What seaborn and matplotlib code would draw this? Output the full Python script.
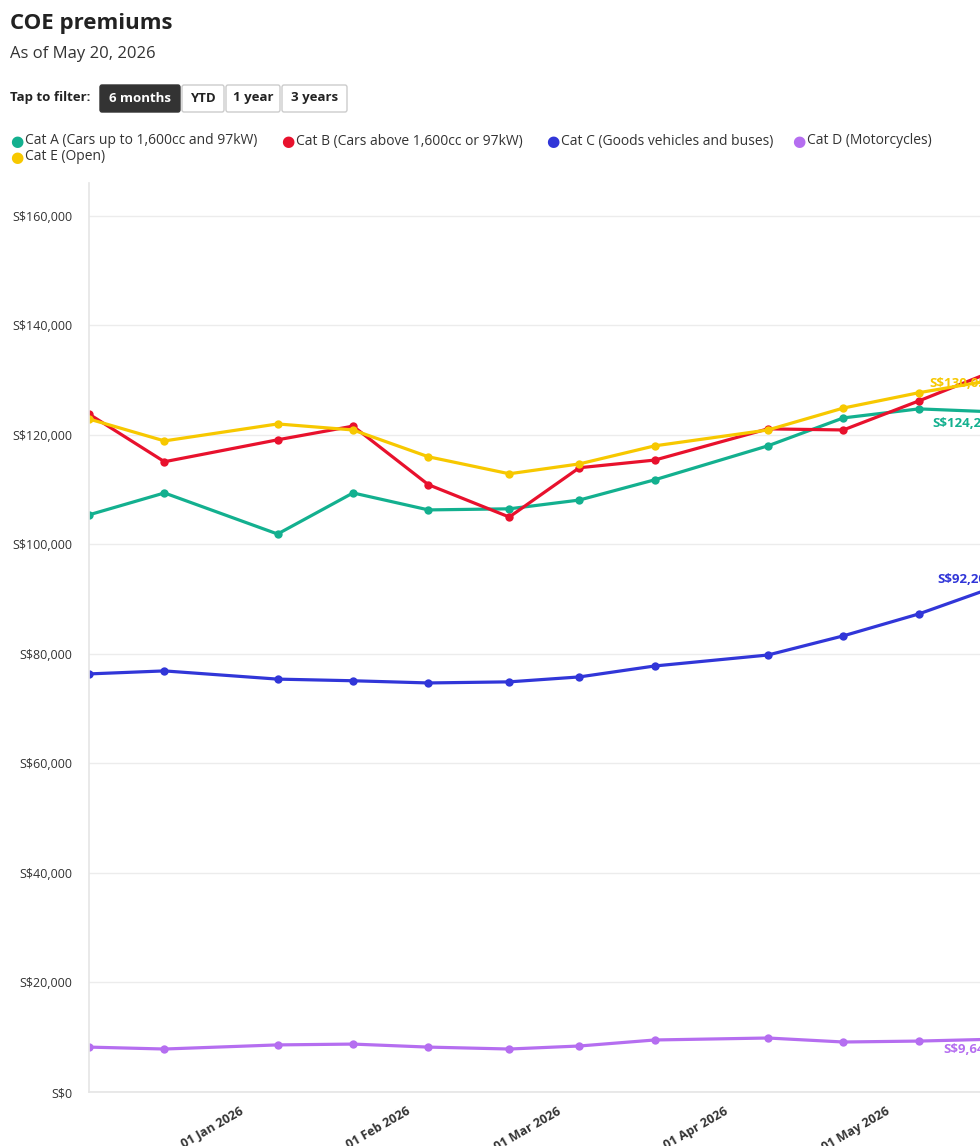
import matplotlib
matplotlib.use("Agg")
import matplotlib.pyplot as plt
import matplotlib.dates as mdates
from matplotlib.patches import FancyBboxPatch
import seaborn as sns
import pandas as pd

sns.set_theme(style="white")
plt.rcParams['font.family'] = ['Open Sans', 'DejaVu Sans']

dates = pd.to_datetime(['2025-12-03', '2025-12-17', '2026-01-07', '2026-01-21', '2026-02-04',
                        '2026-02-19', '2026-03-04', '2026-03-18', '2026-04-08', '2026-04-22',
                        '2026-05-06', '2026-05-20'])
premiums = {
    'Cat A (Cars up to 1,600cc and 97kW)': [105400, 109400, 101900, 109400, 106300, 106500,
                                            108100, 111800, 118000, 123100, 124750, 124200],
    'Cat B (Cars above 1,600cc or 97kW)': [123800, 115100, 119100, 121600, 110900, 105000,
                                           114000, 115400, 121100, 120900, 126200, 131700],
    'Cat C (Goods vehicles and buses)': [76350, 76900, 75400, 75100, 74700, 74900,
                                         75800, 77800, 79800, 83300, 87300, 92200],
    'Cat D (Motorcycles)': [8200, 7850, 8600, 8750, 8200, 7850, 8400, 9500, 9860, 9130, 9300, 9640],
    'Cat E (Open)': [122900, 118900, 122000, 120900, 116000, 112900, 114700, 118000, 120900,
                     124900, 127700, 130050],
}
colours = {
    'Cat A (Cars up to 1,600cc and 97kW)': '#13b08f',
    'Cat B (Cars above 1,600cc or 97kW)': '#e8112d',
    'Cat C (Goods vehicles and buses)': '#3136d8',
    'Cat D (Motorcycles)': '#b56ef0',
    'Cat E (Open)': '#f7c800',
}
df = pd.DataFrame(premiums, index=dates).reset_index(names='date')
long = df.melt(id_vars='date', var_name='category', value_name='premium')

W, H = 980, 1146
fig = plt.figure(figsize=(W / 100, H / 100), dpi=100)
ax_left, ax_right, ax_top, ax_bot = 89, 1040, 183, 1092
ax = fig.add_axes([ax_left / W, 1 - ax_bot / H, (ax_right - ax_left) / W, (ax_bot - ax_top) / H])

sns.lineplot(data=long, x='date', y='premium', hue='category', palette=colours,
             marker='o', markersize=6, markeredgewidth=0, linewidth=2.3, legend=False, ax=ax)

ax.set_ylim(0, 166000)
ax.set_xlim(pd.Timestamp('2025-12-03'), pd.Timestamp('2026-05-28 12:00'))
ax.set_yticks(range(0, 160001, 20000))
ax.set_yticklabels([f'S${v:,}' for v in range(0, 160001, 20000)], fontsize=9, color='#333333')
ax.yaxis.grid(True, color='#ececec', linewidth=1)
ax.xaxis.set_major_locator(mdates.MonthLocator(bymonthday=1))
ax.xaxis.set_major_formatter(mdates.DateFormatter('%d %b %Y'))
for lab in ax.get_xticklabels():
    lab.set_rotation(30)
    lab.set_ha('right')
    lab.set_fontsize(9)
    lab.set_fontweight('bold')
    lab.set_color('#333333')
ax.tick_params(axis='x', length=5, color='#dddddd', pad=4)
ax.tick_params(axis='y', length=0, pad=12)
ax.set_xlabel('')
ax.set_ylabel('')
for s in ['top', 'right']:
    ax.spines[s].set_visible(False)
ax.spines['left'].set_color('#e6e6e6')
ax.spines['bottom'].set_color('#e6e6e6')

# end labels
offsets = {
    'Cat A (Cars up to 1,600cc and 97kW)': (-62, -12),
    'Cat B (Cars above 1,600cc or 97kW)': None,
    'Cat C (Goods vehicles and buses)': (-57, 8),
    'Cat D (Motorcycles)': (-51, -10),
    'Cat E (Open)': (-65, -4),
}
for cat, off in offsets.items():
    if off is None:
        continue
    v = premiums[cat][-1]
    ax.annotate(f'S${v:,}', (dates[-1], v), xytext=off, textcoords='offset pixels',
                color=colours[cat], fontsize=9.5, fontweight='bold', va='center', ha='left')

# header
fig.text(10 / W, 1 - 23 / H, 'COE premiums', fontsize=16, fontweight='bold', color='#222222', va='center')
fig.text(10 / W, 1 - 54 / H, 'As of May 20, 2026', fontsize=12, color='#333333', va='center')
fig.text(10 / W, 1 - 98 / H, 'Tap to filter:', fontsize=9.5, fontweight='bold', color='#222222', va='center')
buttons = [('6 months', 100, 180, True), ('YTD', 182, 224, False),
           ('1 year', 226, 280, False), ('3 years', 282, 347, False)]
for label, x0, x1, active in buttons:
    box = FancyBboxPatch((x0 / W, 1 - 112 / H), (x1 - x0) / W, 27 / H,
                         boxstyle='round,pad=0,rounding_size=0.002', transform=fig.transFigure,
                         facecolor='#333333' if active else 'white',
                         edgecolor='#333333' if active else '#cccccc', linewidth=1)
    fig.patches.append(box)
    fig.text((x0 + x1) / 2 / W, 1 - 98 / H, label, fontsize=9.5, fontweight='bold',
             color='white' if active else '#222222', ha='center', va='center')

legend_pos = [('Cat A (Cars up to 1,600cc and 97kW)', 10, 141),
              ('Cat B (Cars above 1,600cc or 97kW)', 281, 141),
              ('Cat C (Goods vehicles and buses)', 546, 141),
              ('Cat D (Motorcycles)', 792, 141),
              ('Cat E (Open)', 10, 157)]
for cat, x, y in legend_pos:
    fig.text(x / W, 1 - y / H, '\u25cf', color=colours[cat], fontsize=11, va='center',
             family=['DejaVu Sans'])
    fig.text((x + 15) / W, 1 - y / H, cat, color='#333333', fontsize=10, va='center')

fig.savefig('out.png', dpi=100, facecolor='white')
